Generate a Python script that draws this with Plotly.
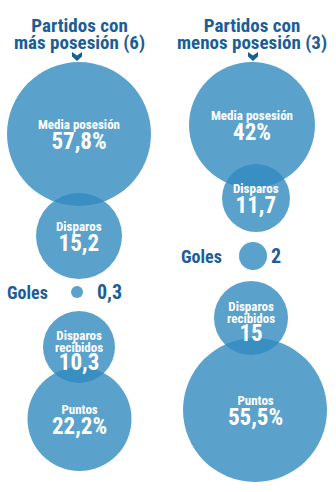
import plotly.graph_objects as go

# Metrics compared for the two groups of matches
metric_labels = ["Media posesión", "Disparos", "Goles", "Disparos<br>recibidos", "Puntos"]
more_possession = ["57,8%", "15,2", "0,3", "10,3", "22,2%"]
less_possession = ["42%", "11,7", "2", "15", "55,5%"]
group_titles = ["Partidos con<br>más posesión (6)", "Partidos con<br>menos posesión (3)"]

# Bubble layout in page pixels: (centre x, centre y, radius) per metric
layout_more = [(79, 134, 72), (79, 236, 43), (77, 292, 6), (79, 347, 36), (79.5, 419, 52)]
layout_less = [(252, 125, 63), (256, 198, 34), (253, 256, 14), (251, 318, 37), (255, 410, 72)]
# x of the right edge of "Goles" and of the left edge of its value, per column
goles_text_x = [(49, 96), (223, 270)]
title_x = [79, 252]
chevron_x = [77, 253]

W, H = 336, 492
BUBBLE = "rgb(49,139,191)"
DARK = "#1b5e96"
FONT = "Roboto Condensed, Liberation Sans Narrow, DejaVu Sans Condensed, Roboto, sans-serif"

# Plotly spaces lines by 1.3 x the annotation font size; a tiny base size
# plus blank lines gives fine control over the gaps between text lines.
STEP = 2.0
BASE = STEP / 1.3


def span(text, size):
    return "<span style='font-size:%spx'><b>%s</b></span>" % (size, text)


def bubble_text(label, value):
    lines = label.split("<br>")
    parts = [span(lines[0], 13)]
    for ln in lines[1:]:
        parts.append("<br>" * 6 + span(ln, 13))
    gap = 9 if len(lines) > 1 else 10
    parts.append("<br>" * gap + span(value, 23))
    return "".join(parts), len(lines)


fig = go.Figure()
annotations = []

for values, lay, (gx, vx) in [(more_possession, layout_more, goles_text_x[0]),
                              (less_possession, layout_less, goles_text_x[1])]:
    for cx, cy, r in lay:
        fig.add_trace(go.Scatter(
            x=[cx], y=[cy], mode="markers",
            marker=dict(size=2 * r, color=BUBBLE, opacity=0.8, line=dict(width=0)),
            hoverinfo="skip", showlegend=False,
        ))
    for (cx, cy, r), label, val in zip(lay, metric_labels, values):
        if label == "Goles":
            annotations.append(dict(x=gx, y=cy, text="<b>Goles</b>", showarrow=False,
                                    font=dict(family=FONT, size=18, color=DARK),
                                    xanchor="right", borderpad=0))
            annotations.append(dict(x=vx, y=cy, text="<b>%s</b>" % val, showarrow=False,
                                    font=dict(family=FONT, size=20, color=DARK),
                                    xanchor="left", borderpad=0))
            continue
        text, n = bubble_text(label, val)
        annotations.append(dict(x=cx, y=cy + (5 if n > 1 else 2), text=text, showarrow=False,
                                font=dict(family=FONT, size=BASE, color="white"),
                                yanchor="middle", align="center", borderpad=0))

shapes = []
for tx, title in zip(title_x, group_titles):
    first, second = title.split("<br>")
    annotations.append(dict(x=tx, y=34, text=span(first, 19) + "<br>" + span(second, 19),
                            showarrow=False, font=dict(family=FONT, size=13, color=DARK),
                            yanchor="middle", align="center", borderpad=0))
for cx in chevron_x:
    # small chevron under each heading
    shapes.append(dict(type="path", xref="x", yref="y",
                       path=f"M {cx-5},52 L {cx},55.5 L {cx+5},52 L {cx+5},56.5 "
                            f"L {cx},61 L {cx-5},56.5 Z",
                       fillcolor=DARK, line=dict(width=0)))

fig.update_layout(
    width=W, height=H,
    margin=dict(l=0, r=0, t=0, b=0),
    paper_bgcolor="white", plot_bgcolor="white",
    xaxis=dict(range=[0, W], visible=False, fixedrange=True),
    yaxis=dict(range=[H, 0], visible=False, fixedrange=True),
    annotations=annotations,
    shapes=shapes,
)

fig.write_html("out.html")
